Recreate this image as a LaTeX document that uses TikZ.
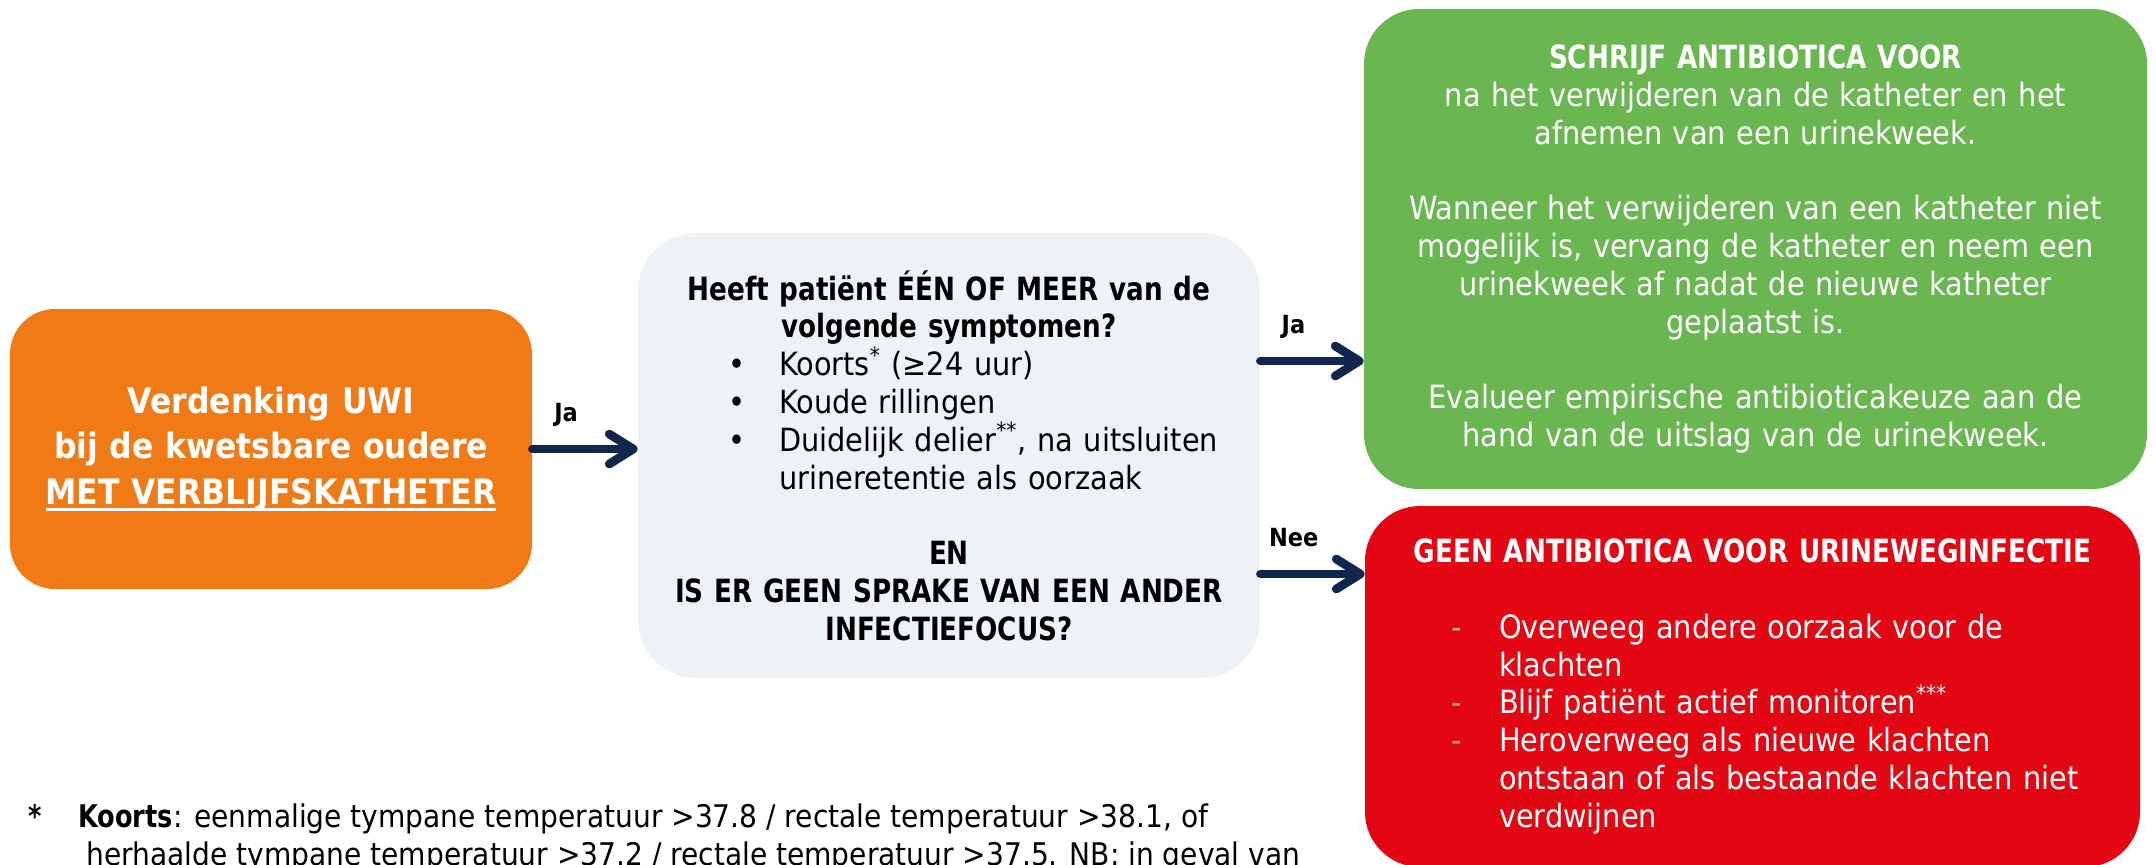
\documentclass[tikz,border=0pt]{standalone}
\usepackage{fontspec}
\setmainfont{DejaVu Sans}[FakeStretch=0.9]
\newfontfamily\headfam{DejaVu Sans}[FakeStretch=0.82]
\usetikzlibrary{arrows.meta}

\definecolor{uwiorange}{RGB}{239,122,22}
\definecolor{uwigrey}{RGB}{238,242,247}
\definecolor{uwigreen}{RGB}{106,182,81}
\definecolor{uwired}{RGB}{227,6,19}
\definecolor{uwinavy}{RGB}{17,38,77}
\definecolor{uwidash}{RGB}{244,170,170}

\newcommand{\bodyfont}{\fontsize{16}{18.9}\selectfont}
\newcommand{\headbf}{\headfam\bfseries}
\newcommand{\itemline}[3]{\makebox[\linewidth][l]{\hspace{#1}\makebox[15pt]{#2}\hspace{13.5pt}#3}}
\newcommand{\ulbox}[1]{\leavevmode\setbox0\hbox{#1}\rlap{\rule[-3.3pt]{\wd0}{1.4pt}}\box0}

\begin{document}
\begin{tikzpicture}[x=0.5pt,y=-0.5pt,line join=round,line cap=round]
\tikzset{box/.style={rounded corners=#1, inner sep=0pt, align=center, font=\bodyfont},
  arr/.style={draw=uwinavy, line width=4.35pt, -{Straight Barb[round,length=12pt,width=15pt]}},
  lbl/.style={font=\fontsize{12.5}{15}\selectfont\bfseries, anchor=base, yshift=14pt, pos=.32}}
\path[use as bounding box, clip] (0,0) rectangle (2156,864);

% boxes
\node[box=22.5pt, fill=uwiorange, text=white, minimum width=261pt, minimum height=140pt,
  text width=250pt, font=\fontsize{17.5}{22.75}\selectfont\bfseries] (susp) at (271,449)
  {Verdenking UWI\\ bij de kwetsbare oudere\\ \ulbox{MET VERBLIJFSKATHETER}};
\node[box=29pt, fill=uwigrey, minimum width=311pt, minimum height=222.5pt, text width=300pt] (ask) at (949,455.5)
  {\headbf Heeft patiënt ÉÉN OF MEER van de\\ volgende symptomen?\\ \normalfont\bodyfont
   \itemline{36.5pt}{\textbullet}{Koorts\textsuperscript{*} (≥24 uur)}\\
   \itemline{36.5pt}{\textbullet}{Koude rillingen}\\
   \itemline{36.5pt}{\textbullet}{Duidelijk delier\textsuperscript{**}, na uitsluiten}\\
   \itemline{36.5pt}{}{urineretentie als oorzaak}\\[18.9pt]
   \headbf EN\\ IS ER GEEN SPRAKE VAN EEN ANDER\\ INFECTIEFOCUS?};
\node[box=27.5pt, fill=uwigreen, text=white, minimum width=391.5pt, minimum height=240pt, text width=380pt] (treat) at (1755.5,249)
  {{\headbf SCHRIJF ANTIBIOTICA VOOR}\\ na het verwijderen van de katheter en het\\ afnemen van een urinekweek.\\[18.9pt]
   Wanneer het verwijderen van een katheter niet\\ mogelijk is, vervang de katheter en neem een\\
   urinekweek af nadat de nieuwe katheter\\ geplaatst is.\\[18.9pt]
   Evalueer empirische antibioticakeuze aan de\\ hand van de uitslag van de urinekweek.};
\node[box=27.5pt, fill=uwired, text=white, minimum width=387.5pt, minimum height=180.5pt, text width=370pt] (none) at (1752.5,686.5)
  {{\headbf GEEN ANTIBIOTICA VOOR URINEWEGINFECTIE}\\[18.9pt]
   \itemline{29.75pt}{\textcolor{uwidash}{-}}{Overweeg andere oorzaak voor de}\\
   \itemline{29.75pt}{}{klachten}\\
   \itemline{29.75pt}{\textcolor{uwidash}{-}}{Blijf patiënt actief monitoren\textsuperscript{***}}\\
   \itemline{29.75pt}{\textcolor{uwidash}{-}}{Heroverweeg als nieuwe klachten}\\
   \itemline{29.75pt}{}{ontstaan of als bestaande klachten niet}\\
   \itemline{29.75pt}{}{verdwijnen}};

% footnote
\node[anchor=base west, inner sep=0pt, align=left, font=\fontsize{15.6}{18.9}\selectfont] (note) at (28,865)
  {\makebox[25pt][l]{\headbf *}{\headbf Koorts}: eenmalige tympane temperatuur >37.8 / rectale temperatuur >38.1, of\\
   \hspace{29pt}herhaalde tympane temperatuur >37.2 / rectale temperatuur >37.5. NB: in geval van};

% arrows
\coordinate (jay) at (0,361);
\coordinate (neey) at (0,574);
\draw[arr] (susp.east) -- (ask.west |- susp.east) node[lbl] {Ja};
\draw[arr] (ask.east |- jay) -- (treat.west |- jay) node[lbl] {Ja};
\draw[arr] (ask.east |- neey) -- (none.west |- neey) node[lbl] {Nee};
\end{tikzpicture}
\end{document}
